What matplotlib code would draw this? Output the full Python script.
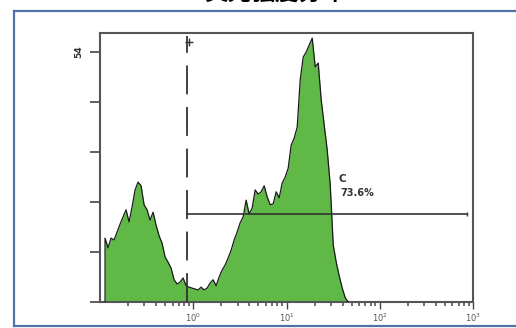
import numpy as np
import matplotlib
matplotlib.use("Agg")
import matplotlib.pyplot as plt
from matplotlib.lines import Line2D
from matplotlib.ticker import LogLocator, FixedLocator, NullFormatter

plt.rcParams['font.family'] = ['DejaVu Sans', 'Noto Sans CJK SC']

# ---- data ----
title_text = "荧光强度分布"
# histogram channels (log10 of fluorescence at the first channel centre and channel width)
channel_log_start = -0.946
channel_log_width = 0.0322
counts = [13.8, 11.7, 13.8, 13.4, 15.1, 16.8, 18.4, 19.9, 17.3, 20.5,
          24.2, 25.9, 25.1, 21.0, 19.9, 17.7, 19.4, 16.6, 14.3, 12.7,
          9.7, 8.6, 7.3, 4.8, 3.9, 4.3, 5.2, 3.5, 3.2, 3.0,
          2.8, 2.6, 3.2, 2.6, 3.0, 4.1, 4.8, 3.5, 5.4, 6.9,
          8.0, 9.5, 11.2, 13.4, 15.1, 17.1, 18.4, 22.0, 19.0, 20.3,
          24.2, 23.3, 23.8, 25.1, 22.7, 21.0, 21.2, 23.8, 22.5, 25.7,
          27.0, 28.9, 33.9, 35.4, 37.8, 48.0, 52.9, 54.0, 55.5, 57.0,
          50.8, 51.6, 43.6, 38.2, 32.8, 25.3, 12.3, 8.6, 5.6, 3.0,
          0.9, 0.0]
gate_x = 0.857          # marker gate position
gate_y = 19.0           # level of the gate's horizontal bar
gate_x_end = 870.0
gate_label = "C"
gate_pct = "73.6%"
y_max_label = "54"
y_tick_step = 10.8
x_decades = [0, 1, 2, 3]

n = len(counts)
centres = 10 ** (channel_log_start + channel_log_width * np.arange(n))
xs = np.concatenate([[centres[0]], centres])
ys = np.concatenate([[0.0], counts])

fig = plt.figure(figsize=(5.16, 3.28), dpi=100)
W, H = 516, 328
ax = fig.add_axes([100 / W, 1 - 302 / H, 373 / W, 269 / H])

green = '#60b946'
ax.fill_between(xs, 0, ys, color=green, linewidth=0, zorder=2)
ax.plot(xs, ys, color='#1a1a1a', linewidth=0.9, zorder=3)

ax.set_xscale('log')
ax.set_xlim(1e-1, 1e3)
ax.set_ylim(0, 58.1)

# gate
ax.plot([gate_x, gate_x], [0, 57.5], color='#333333', linewidth=1.3,
        dashes=(16, 7), zorder=4)
ax.plot([gate_x * 1.05], [56.2], marker='+', color='#333333', markersize=6,
        markeredgewidth=1.0, zorder=5)
ax.plot([gate_x, gate_x_end], [gate_y, gate_y], color='#333333', linewidth=1.2, zorder=4)
ax.plot([gate_x_end], [gate_y], marker='|', color='#333333', markersize=3, zorder=4)
ax.text(36, 26.5, gate_label, fontsize=7.5, fontweight='bold', color='#333333',
        ha='left', va='center')
ax.text(38, 23.5, gate_pct, fontsize=7, fontweight='bold', color='#333333',
        ha='left', va='center')

# y ticks
yt = [i * y_tick_step for i in range(6)]
ax.yaxis.set_major_locator(FixedLocator(yt))
ax.set_yticklabels([''] * 5 + [y_max_label], rotation=90, va='center',
                   fontsize=6.5, fontweight='bold', color='#333333')
ax.tick_params(axis='y', direction='out', length=7, width=1.2, color='#444444', pad=5)

# x ticks
ax.xaxis.set_major_locator(FixedLocator([10.0 ** d for d in x_decades]))
ax.set_xticklabels([f'$10^{{{d}}}$' for d in x_decades], fontsize=6, color='#555555')
ax.xaxis.set_minor_locator(LogLocator(base=10, subs=np.arange(2, 10)))
ax.xaxis.set_minor_formatter(NullFormatter())
ax.tick_params(axis='x', which='major', direction='out', length=5, width=1.0,
               color='#444444', pad=2)
ax.tick_params(axis='x', which='minor', direction='out', length=3, width=1.2,
               color='#555555')

for s in ax.spines.values():
    s.set_color('#555555')
    s.set_linewidth(1.5)

# outer blue frame
blue = '#4f72a8'
fig.add_artist(Line2D([14 / W, 1.0], [1 - 10.5 / H, 1 - 10.5 / H], color=blue, linewidth=1.6,
                      transform=fig.transFigure))
fig.add_artist(Line2D([14 / W, 14 / W], [1 - 10.5 / H, 1 - 326 / H], color=blue, linewidth=1.6,
                      transform=fig.transFigure))
fig.add_artist(Line2D([14 / W, 1.0], [1 - 326 / H, 1 - 326 / H], color=blue, linewidth=1.6,
                      transform=fig.transFigure))

# clipped title at top (the reference shows only its lower edge)
fig.text(275 / W, 1 - 5 / H, title_text, fontsize=17, fontweight='bold',
         family=['Noto Sans CJK SC'], ha='center', va='bottom', color='black')

fig.savefig('out.png', dpi=100)
